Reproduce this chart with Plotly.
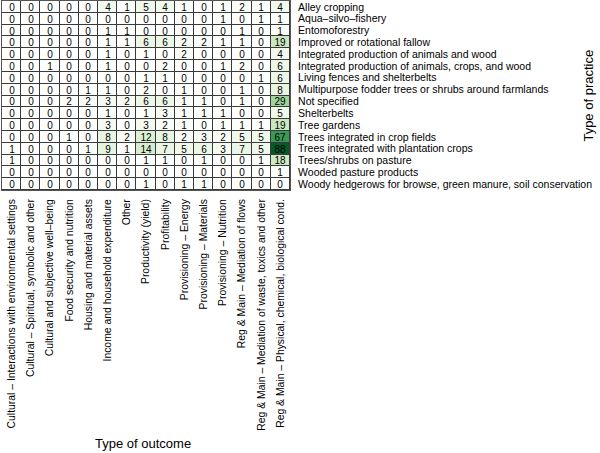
import plotly.graph_objects as go

outcomes = [
    "Cultural – Interactions with environmental settings",
    "Cultural – Spiritual, symbolic and other",
    "Cultural and subjective well–being",
    "Food security and nutrition",
    "Housing and material assets",
    "Income and household expenditure",
    "Other",
    "Productivity (yield)",
    "Profitability",
    "Provisioning – Energy",
    "Provisioning – Materials",
    "Provisioning – Nutrition",
    "Reg & Main – Mediation of flows",
    "Reg & Main – Mediation of waste, toxics and other",
    "Reg & Main – Physical, chemical, biological cond.",
]

practices = [
    "Alley cropping",
    "Aqua–silvo–fishery",
    "Entomoforestry",
    "Improved or rotational fallow",
    "Integrated production of animals and wood",
    "Integrated production of animals, crops, and wood",
    "Living fences and shelterbelts",
    "Multipurpose fodder trees or shrubs around farmlands",
    "Not specified",
    "Shelterbelts",
    "Tree gardens",
    "Trees integrated in crop fields",
    "Trees integrated with plantation crops",
    "Trees/shrubs on pasture",
    "Wooded pasture products",
    "Woody hedgerows for browse, green manure, soil conservation",
]

counts = [
    [0, 0, 0, 0, 0, 4, 1, 5, 4, 1, 0, 1, 2, 1, 4],
    [0, 0, 0, 0, 0, 0, 0, 0, 0, 0, 0, 1, 0, 1, 1],
    [0, 0, 0, 0, 0, 1, 1, 0, 0, 0, 0, 0, 1, 0, 1],
    [0, 0, 0, 0, 0, 1, 1, 6, 6, 2, 2, 1, 1, 0, 19],
    [0, 0, 0, 0, 0, 1, 0, 1, 0, 2, 0, 0, 0, 0, 4],
    [0, 0, 1, 0, 0, 1, 0, 0, 2, 0, 0, 1, 2, 0, 6],
    [0, 0, 0, 0, 0, 0, 0, 1, 1, 0, 0, 0, 0, 1, 6],
    [0, 0, 0, 0, 1, 1, 0, 2, 0, 1, 0, 0, 1, 0, 8],
    [0, 0, 0, 2, 2, 3, 2, 6, 6, 1, 1, 0, 1, 0, 29],
    [0, 0, 0, 0, 0, 1, 0, 1, 3, 1, 1, 1, 0, 0, 5],
    [0, 0, 0, 0, 0, 3, 0, 3, 2, 1, 0, 1, 1, 1, 19],
    [0, 0, 0, 1, 0, 8, 2, 12, 8, 2, 3, 2, 5, 5, 67],
    [1, 0, 0, 0, 1, 9, 1, 14, 7, 5, 6, 3, 7, 5, 88],
    [1, 0, 0, 0, 0, 0, 0, 1, 1, 0, 1, 0, 0, 1, 18],
    [0, 0, 0, 0, 0, 0, 0, 0, 0, 0, 0, 0, 0, 0, 1],
    [0, 0, 0, 0, 0, 0, 0, 1, 0, 1, 1, 0, 0, 0, 0],
]

colorscale = [
    [0.0, "#ffffff"],
    [0.06, "#eef8ea"],
    [0.22, "#c8e8bf"],
    [0.33, "#9fd49a"],
    [0.76, "#3a9a55"],
    [1.0, "#06592a"],
]

FONT = "Liberation Sans, Arial, sans-serif"

fig = go.Figure(
    go.Heatmap(
        z=counts,
        x=outcomes,
        y=practices,
        colorscale=colorscale,
        zmin=0,
        zmax=88,
        showscale=False,
        xgap=1,
        ygap=1,
        texttemplate="%{z}",
        textfont=dict(family=FONT, size=10, color="black"),
        hoverinfo="skip",
    )
)

fig.update_layout(
    width=600,
    height=453,
    margin=dict(l=2, r=310, t=1, b=263),
    paper_bgcolor="white",
    plot_bgcolor="#3a3a3a",
    font=dict(family=FONT, size=10, color="black"),
    xaxis=dict(
        tickmode="array",
        tickvals=outcomes,
        tickangle=-90,
        showgrid=False,
        zeroline=False,
        showline=True,
        linecolor="#555555",
        linewidth=1,
        mirror=True,
        ticks="",
        ticklabelstandoff=4,
        tickfont=dict(size=10.4),
        automargin=False,
    ),
    yaxis=dict(
        tickmode="array",
        tickvals=practices,
        side="right",
        autorange="reversed",
        showgrid=False,
        zeroline=False,
        showline=True,
        linecolor="#555555",
        linewidth=1,
        mirror=True,
        ticks="",
        ticklabelstandoff=5,
        tickfont=dict(size=10.5),
        automargin=False,
    ),
    annotations=[
        dict(
            text="Type of outcome",
            xref="paper", yref="paper",
            x=0.49, y=-1.34,
            xanchor="center", yanchor="middle",
            showarrow=False,
            font=dict(size=13),
        ),
        dict(
            text="Type of practice",
            xref="paper", yref="paper",
            x=2.035, y=0.5,
            xanchor="center", yanchor="middle",
            textangle=-90,
            showarrow=False,
            font=dict(size=13),
        ),
    ],
)

fig.write_html(
    "out.html",
    config={"displayModeBar": False},
    post_script="document.body.style.margin='0';",
)
